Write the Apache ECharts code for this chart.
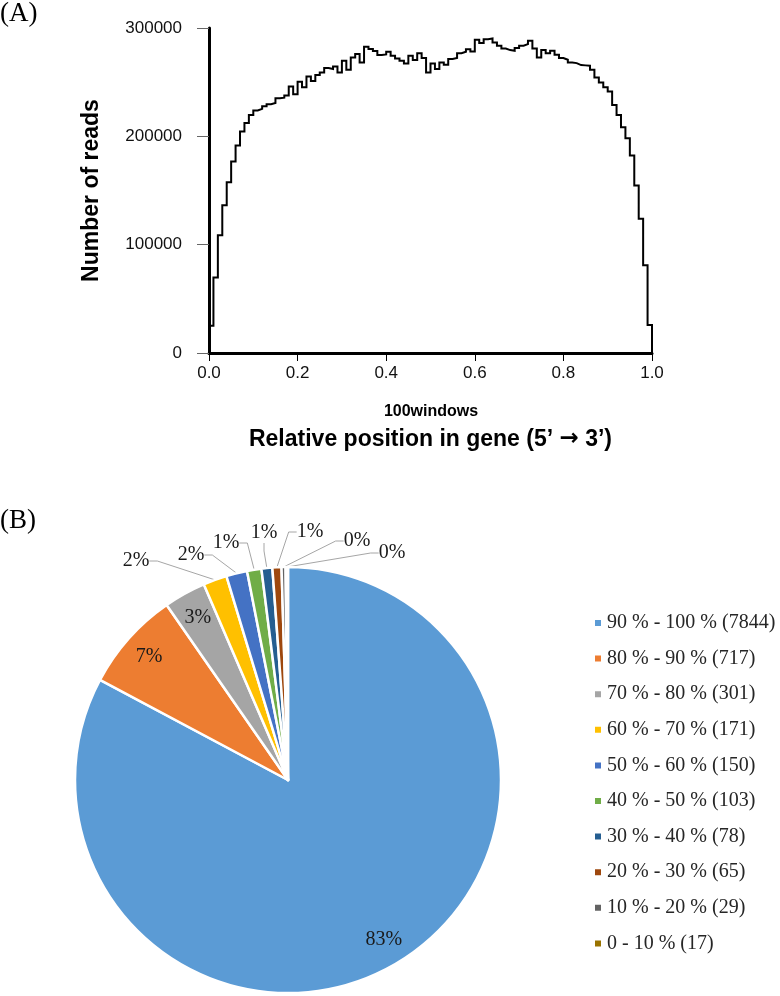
<!DOCTYPE html>
<html><head><meta charset="utf-8">
<script src="https://cdn.jsdelivr.net/npm/echarts@6/dist/echarts.min.js"></script>
<style>html,body{margin:0;padding:0;background:#fff}#main{width:780px;height:996px}</style>
</head><body><div id="main"></div>
<script>
// ---- Panel A data: number of reads per window (100 windows, 5' -> 3') ----
const readCounts = [
  25100, 69700, 108600, 136300, 157700, 176800, 191500, 204400, 212400, 219800,
  223800, 225300, 227700, 229600, 230800, 235100, 235700, 237600, 246100, 238800,
  250500, 245200, 255300, 251100, 256600, 259000, 263100, 262200, 264500, 259000,
  269800, 261500, 272800, 276000, 268200, 282700, 280600, 278700, 275000, 275600,
  278100, 274400, 271900, 269800, 267300, 274400, 270400, 276800, 272300, 259000,
  267300, 262100, 268200, 266100, 271300, 272300, 276800, 278100, 280500, 278400,
  289100, 286100, 289700, 290300, 286700, 283600, 281100, 279600, 279000, 281500,
  283600, 285100, 288200, 281100, 272800, 279600, 276800, 279000, 275300, 272300,
  270700, 268200, 267600, 265800, 265500, 265200, 261500, 254400, 249800, 245200,
  241300, 229000, 219800, 208400, 198300, 182300, 154700, 124000, 81000, 25800
];
const xTickLabels = ['0.0', '0.2', '0.4', '0.6', '0.8', '1.0'];
const yTickLabels = ['0', '100000', '200000', '300000'];

// ---- Panel B data ----
const coverageCategories = ['90 % - 100 %', '80 % - 90 %', '70 % - 80 %', '60 % - 70 %', '50 % - 60 %',
  '40 % - 50 %', '30 % - 40 %', '20 % - 30 %', '10 % - 20 %', '0 - 10 %'];
const geneCounts = [7844, 717, 301, 171, 150, 103, 78, 65, 29, 17];
const percentLabels = ['83%', '7%', '3%', '2%', '2%', '1%', '1%', '1%', '0%', '0%'];
const sliceColors = ['#5B9BD5', '#ED7D31', '#A5A5A5', '#FFC000', '#4472C4', '#70AD47', '#255E91', '#9E480E', '#636363', '#997300'];

// ---- layout constants ----
const PIE_CX = 288, PIE_CY = 780, PIE_R = 213, INSIDE_LABEL_R = 186;
const outsideLabelSpots = {3: [136, 561], 4: [191, 555], 5: [226, 543], 6: [264, 533], 7: [310, 532], 8: [357, 541], 9: [392, 553]};

const legendNames = coverageCategories.map((c, i) => c + ' (' + geneCounts[i] + ')');
const n = readCounts.length;
const linePoints = [[0, 0]]
  .concat(readCounts.map((v, i) => [i / n, v]))
  .concat([[1, readCounts[n - 1]], [1, 0]]);

const chart = echarts.init(document.getElementById('main'), null, {renderer: 'canvas'});
const sans = 'Liberation Sans, Arial, sans-serif';
const serif = 'Liberation Serif, Times New Roman, serif';

chart.setOption({
  animation: false,
  backgroundColor: '#fff',
  grid: {left: 209, right: 128, top: 28, height: 325},
  xAxis: {
    type: 'value', min: 0, max: 1, interval: 0.2,
    name: '{t|Relative position in gene (5\u2019 }{a|\u2192}{t| 3\u2019)}',
    nameLocation: 'middle', nameGap: 75,
    nameTextStyle: {fontFamily: sans, fontWeight: 'bold', fontSize: 23, color: '#000',
      rich: {
        t: {fontFamily: sans, fontWeight: 'bold', fontSize: 23, color: '#000'},
        a: {fontFamily: 'DejaVu Sans', fontWeight: 'bold', fontSize: 23, color: '#000'}
      }},
    axisLine: {lineStyle: {color: '#000', width: 3}},
    axisTick: {show: true, length: 8, lineStyle: {color: '#000', width: 1}},
    axisLabel: {margin: 12, fontFamily: sans, fontSize: 17, color: '#111',
      formatter: v => xTickLabels[Math.round(v / 0.2)]},
    splitLine: {show: false}
  },
  yAxis: {
    type: 'value', min: 0, max: 300000, interval: 100000,
    name: 'Number of reads', nameLocation: 'middle', nameGap: 106, nameRotate: 90,
    nameTextStyle: {fontFamily: sans, fontWeight: 'bold', fontSize: 23, color: '#000'},
    axisLine: {show: true, lineStyle: {color: '#000', width: 3}},
    axisTick: {show: true, length: 12, lineStyle: {color: '#666', width: 1}},
    axisLabel: {margin: 27, fontFamily: sans, fontSize: 17, color: '#111',
      formatter: v => yTickLabels[Math.round(v / 100000)]},
    splitLine: {show: false}
  },
  legend: {
    orient: 'vertical', left: 593, top: 613, padding: 0, icon: 'rect',
    itemWidth: 8, itemHeight: 8, itemGap: 15.6, selectedMode: false,
    textStyle: {fontFamily: serif, fontSize: 20, color: '#262626', lineHeight: 20},
    data: legendNames
  },
  graphic: [
    {type: 'text', left: 0, top: 0, style: {text: '(A)', font: '27px ' + serif, fill: '#000'}},
    {type: 'text', left: 0, top: 507, style: {text: '(B)', font: '27px ' + serif, fill: '#000'}},
    {type: 'text', x: 431, y: 412, style: {text: '100windows', font: 'bold 16px ' + sans, fill: '#000', align: 'center', verticalAlign: 'middle'}}
  ],
  series: [
    {
      type: 'line', step: 'end', data: linePoints, showSymbol: false, silent: true,
      lineStyle: {color: '#000', width: 2, join: 'miter'}
    },
    {
      type: 'pie', center: [PIE_CX, PIE_CY], radius: PIE_R, startAngle: 90, clockwise: true,
      avoidLabelOverlap: false, silent: true,
      itemStyle: {borderColor: '#fff', borderWidth: 2.5},
      label: {formatter: p => percentLabels[p.dataIndex], fontFamily: serif, fontSize: 20, color: '#1a1a1a'},
      labelLine: {length: 10, length2: 8, lineStyle: {color: '#a6a6a6', width: 1}},
      emphasis: {disabled: true},
      data: geneCounts.map((v, i) => ({
        name: legendNames[i], value: v,
        itemStyle: {color: sliceColors[i]},
        label: {position: i < 3 ? 'inside' : 'outside'},
        labelLine: {show: i >= 3}
      })),
      labelLayout: function (params) {
        const i = params.dataIndex;
        if (i < 3) {
          const r = params.labelRect;
          const lx = r.x + r.width / 2, ly = r.y + r.height / 2;
          const d = Math.hypot(lx - PIE_CX, ly - PIE_CY) || 1;
          const f = INSIDE_LABEL_R / d - 1;
          return {dx: (lx - PIE_CX) * f, dy: (ly - PIE_CY) * f};
        }
        const s = outsideLabelSpots[i];
        return {x: s[0], y: s[1], align: 'center', verticalAlign: 'middle'};
      }
    }
  ]
});
</script>
</body></html>
